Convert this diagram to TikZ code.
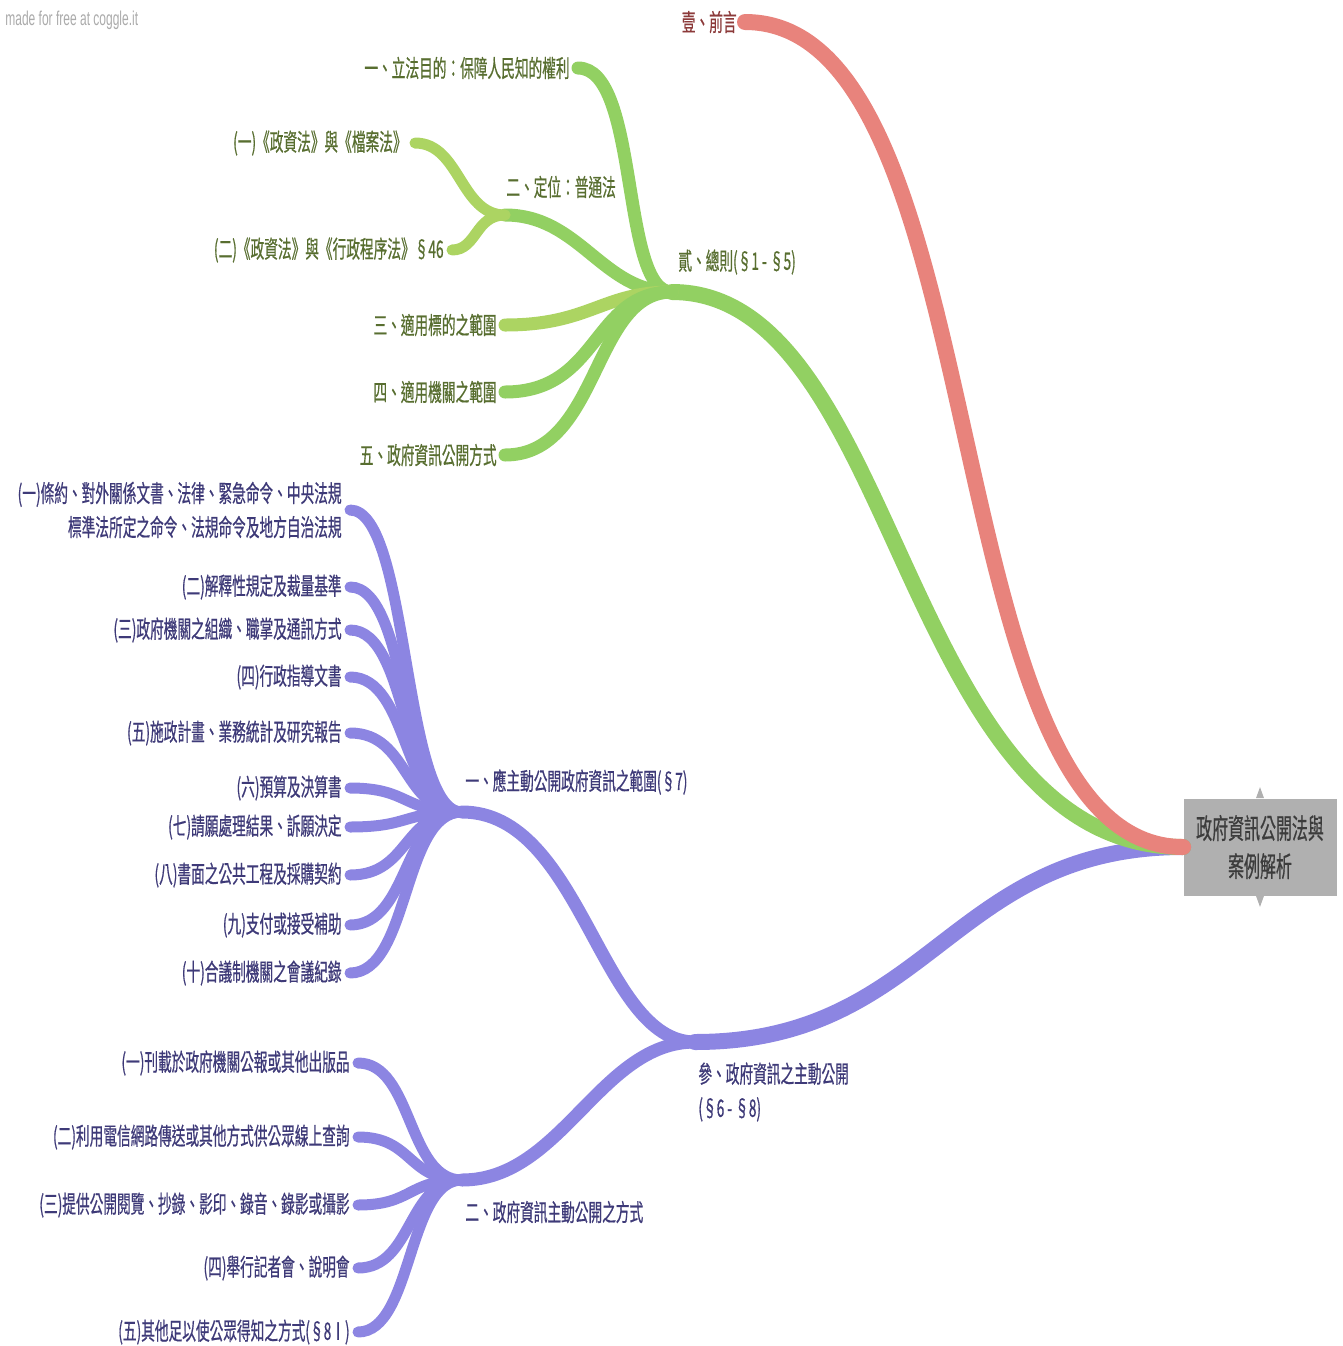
\documentclass[tikz,border=0pt]{standalone}
\usepackage{fontspec}
\setmainfont{Noto Sans CJK TC}[FakeStretch=0.57, FakeBold=0.6]
\newfontfamily\wmfont{Liberation Sans}[FakeStretch=0.6]
\usetikzlibrary{positioning,calc}
\definecolor{redbr}{RGB}{232,131,124}
\definecolor{redtx}{RGB}{140,58,58}
\definecolor{grnbr}{RGB}{146,208,98}
\definecolor{grnlt}{RGB}{172,212,98}
\definecolor{grntx}{RGB}{88,110,48}
\definecolor{purbr}{RGB}{140,133,226}
\definecolor{purtx}{RGB}{62,58,120}
\definecolor{rootbg}{RGB}{176,176,176}
\definecolor{roottx}{RGB}{60,60,60}
\tikzset{
  lbl/.style    ={anchor=east, inner xsep=4pt, inner ysep=1pt,
                  font=\fontsize{12}{17}\selectfont},
  redlbl/.style ={lbl, text=redtx},
  grnlbl/.style ={lbl, text=grntx},
  purlbl/.style ={lbl, text=purtx, align=right},
  hublbl/.style ={lbl, anchor=west, inner xsep=0pt, align=left},
  rootbox/.style={fill=rootbg, text=roottx, minimum width=76.5pt,
                  minimum height=48.5pt, align=center, inner sep=0pt,
                  font=\fontsize{14}{19}\selectfont},
  mainbr/.style ={line cap=round, line width=8pt},
  subbr/.style  ={line cap=round, line width=6.5pt},
  leafbr/.style ={line cap=round, line width=5.5pt},
}

\begin{document}
\begin{tikzpicture}[x=0.5pt, y=-0.5pt]
  \useasboundingbox (0,0) rectangle (1343,1346);
  \node[anchor=west, text=black!33, font=\wmfont\fontsize{10}{12}\selectfont, inner sep=0pt]
        (wm) at (5,20) {made for free at coggle.it};

  % root and the three main branches
  \node[rootbox] (root) at (1260,847) {政府資訊公開法與\\案例解析};

  \node[redlbl] (s1) at (745,22) {壹、前言};
  \coordinate (s2) at (672,292);
  \node[hublbl, text=grntx] (s2t) at (678,262) {貳、總則(§1 - §5)};
  \coordinate (s3) at (695,1042);
  \node[hublbl, text=purtx, anchor=north west] (s3t) at (698,1060)
        {參、政府資訊之主動公開\\(§6 - §8)};

  \draw[mainbr, purbr] (root.west) .. controls (950,847) and (930,1042) .. (s3);
  \draw[mainbr, grnbr] (root.west) .. controls (900,847) and (900,292) .. (s2);
  \draw[mainbr, redbr] (root.west) .. controls (930,847) and (1000,22) .. (s1.east);

  % 貳
  \node[grnlbl] (g1) at (578,68) {一、立法目的：保障人民知的權利};
  \coordinate (g2) at (505,215);
  \node[hublbl, text=grntx] (g2t) at (506,187) {二、定位：普通法};
  \node[grnlbl] (g21) at (415,143) {(一)《政資法》與《檔案法》};
  \node[grnlbl] (g22) at (452,250) {(二)《政資法》與《行政程序法》§46};
  \node[grnlbl] (g3) at (505,325) {三、適用標的之範圍};
  \node[grnlbl] (g4) at (505,392) {四、適用機關之範圍};
  \node[grnlbl] (g5) at (505,455) {五、政府資訊公開方式};

  \draw[subbr, grnbr] (s2) .. controls +(-52,0) and +(62,0) .. (g1.east);
  \draw[subbr, grnbr] (s2) .. controls +(-70,0) and +(75,0) .. (g2);
  \draw[leafbr, grnlt] (g2) .. controls +(-45,0) and +(45,0) .. (g21.east);
  \draw[leafbr, grnlt] (g2) .. controls +(-30,0) and +(25,0) .. (g22.east);
  \draw[subbr, grnlt] (s2) .. controls +(-70,0) and +(85,0) .. (g3.east);
  \draw[subbr, grnbr] (s2) .. controls +(-80,0) and +(95,0) .. (g4.east);
  \draw[subbr, grnbr] (s2) .. controls +(-80,0) and +(95,0) .. (g5.east);

  % 參
  \coordinate (pa) at (462,812);
  \node[hublbl, text=purtx] (pat) at (465,782) {一、應主動公開政府資訊之範圍(§7)};
  \coordinate (pb) at (462,1180);
  \node[hublbl, text=purtx] (pbt) at (465,1212) {二、政府資訊主動公開之方式};
  \draw[subbr, purbr] (s3) .. controls +(-95,0) and +(120,0) .. (pa);
  \draw[subbr, purbr] (s3) .. controls +(-95,0) and +(100,0) .. (pb);

  \node[purlbl] (a1)  at (350,510) {(一)條約、對外關係文書、法律、緊急命令、中央法規\\
                                     標準法所定之命令、法規命令及地方自治法規};
  \node[purlbl] (a2)  at (350,587) {(二)解釋性規定及裁量基準};
  \node[purlbl] (a3)  at (350,630) {(三)政府機關之組織、職掌及通訊方式};
  \node[purlbl] (a4)  at (350,677) {(四)行政指導文書};
  \node[purlbl] (a5)  at (350,733) {(五)施政計畫、業務統計及研究報告};
  \node[purlbl] (a6)  at (350,788) {(六)預算及決算書};
  \node[purlbl] (a7)  at (350,827) {(七)請願處理結果、訴願決定};
  \node[purlbl] (a8)  at (350,875) {(八)書面之公共工程及採購契約};
  \node[purlbl] (a9)  at (350,925) {(九)支付或接受補助};
  \node[purlbl] (a10) at (350,973) {(十)合議制機關之會議紀錄};
  \foreach \n in {a1,a2,a3,a4,a5,a6,a7,a8,a9,a10}
    \draw[leafbr, purbr] (pa) .. controls +(-60,0) and +(60,0) .. (\n.east);

  \node[purlbl] (b1) at (358,1063) {(一)刊載於政府機關公報或其他出版品};
  \node[purlbl] (b2) at (358,1137) {(二)利用電信網路傳送或其他方式供公眾線上查詢};
  \node[purlbl] (b3) at (358,1205) {(三)提供公開閱覽、抄錄、影印、錄音、錄影或攝影};
  \node[purlbl] (b4) at (358,1268) {(四)舉行記者會、說明會};
  \node[purlbl] (b5) at (358,1332) {(五)其他足以使公眾得知之方式(§8Ⅰ)};
  \foreach \n in {b1,b2,b3,b4,b5}
    \draw[leafbr, purbr] (pb) .. controls +(-55,0) and +(55,0) .. (\n.east);

  % collapse marks on the root box
  \fill[rootbg] ($(root.north)+(-4,0)$) -- ++(4,-11) -- ++(4,11) -- cycle;
  \fill[rootbg] ($(root.south)+(-4,0)$) -- ++(4,11) -- ++(4,-11) -- cycle;
\end{tikzpicture}
\end{document}
